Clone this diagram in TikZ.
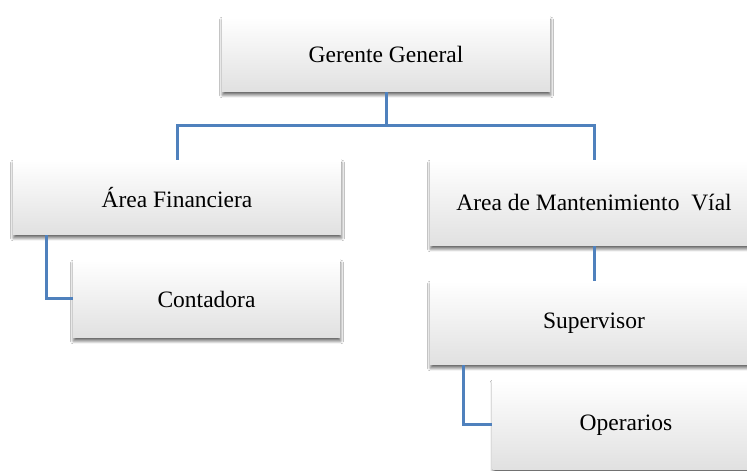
\documentclass[tikz,border=0pt]{standalone}
\usepackage{fontspec}
\setmainfont{Liberation Serif}
\usetikzlibrary{shadows.blur}
\definecolor{linkblue}{RGB}{79,129,189}
\tikzset{
  orgbox/.style={rectangle, inner sep=0pt, top color=white, middle color=white, bottom color=black!12,
    blur shadow={shadow xshift=0.5pt, shadow yshift=-3pt, shadow blur radius=3pt, shadow blur steps=6, shadow opacity=60},
    font=\fontsize{23.5}{28}\selectfont, text=black},
  link/.style={draw=linkblue, line width=3pt}
}
\begin{document}
\begin{tikzpicture}[x=1pt,y=1pt]
\useasboundingbox (0,0) rectangle (747,471);
\clip (0,0) rectangle (747,471);
\fill[white] (0,0) rectangle (747,471);
\coordinate (bus) at (386,345);
\node[orgbox, minimum width=328pt, minimum height=75pt] (gg) at (386,416.5) {Gerente General};
\node[orgbox, minimum width=328pt, minimum height=75pt] (af) at (177,273.5) {Área Financiera};
\node[orgbox, minimum width=267pt, minimum height=78pt] (co) at (206.5,172) {Contadora};
\node[orgbox, minimum width=328pt, minimum height=86pt] (am) at (594,268) {Area de Mantenimiento\ \ Víal};
\node[orgbox, minimum width=328pt, minimum height=84pt] (su) at (594,148) {Supervisor};
\node[orgbox, minimum width=267pt, minimum height=90pt] (op) at (626,46) {Operarios};
\draw[link] (gg.south) -- (bus);
\draw[link] (af.north) |- (bus) -| (am.north);
\draw[link] ([xshift=-131pt]af.south) |- (co.west);
\draw[link] (am.south) -- (su.north);
\draw[link] ([xshift=-131pt]su.south) |- (op.west);
\end{tikzpicture}
\end{document}
